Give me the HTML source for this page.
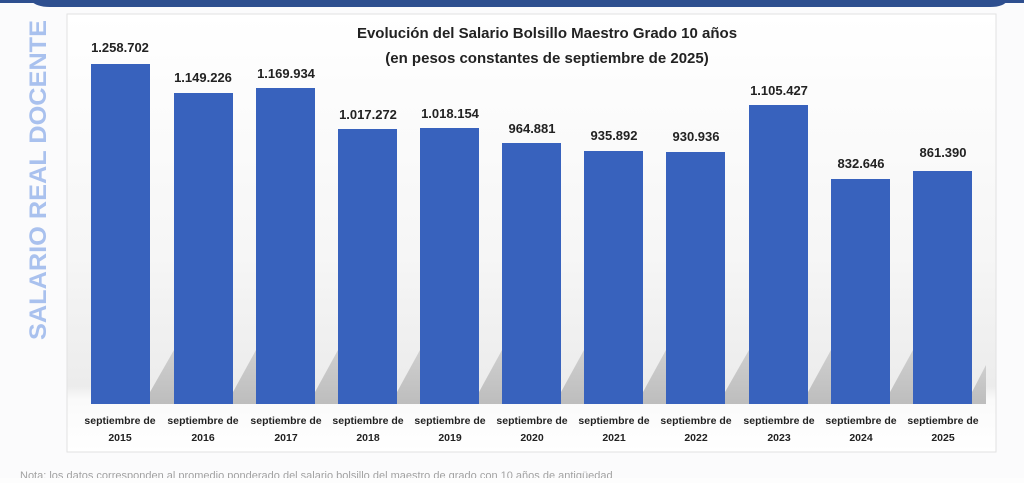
<!DOCTYPE html>
<html><head><meta charset="utf-8"><style>
body{margin:0;width:1024px;height:478px;overflow:hidden;background:#fdfdfd;font-family:"Liberation Sans",sans-serif}
</style></head><body>
<svg width="1024" height="478" viewBox="0 0 1024 478" xmlns="http://www.w3.org/2000/svg">
<defs>
<linearGradient id="bg" x1="0" y1="0" x2="0" y2="1">
<stop offset="0" stop-color="#ffffff"/><stop offset="0.55" stop-color="#f6f6f6"/><stop offset="0.85" stop-color="#ececec"/><stop offset="0.88" stop-color="#fafafa"/><stop offset="1" stop-color="#ffffff"/>
</linearGradient>
<linearGradient id="sh" x1="0" y1="0" x2="0" y2="1">
<stop offset="0" stop-color="#cfcfcf"/><stop offset="1" stop-color="#bdbdbd"/>
</linearGradient>
</defs>
<rect x="0" y="0" width="1024" height="478" fill="#fbfbfc"/>
<path d="M30 0 Q36 7 50 7 L990 7 Q1004 7 1008 0 Z" fill="#2e4f8f"/>
<rect x="0" y="0" width="1024" height="3" fill="#2e4f8f"/>
<rect x="67" y="14" width="929" height="438" fill="url(#bg)" stroke="#e2e2e2"/>
<text transform="translate(46,340) rotate(-90)" font-size="24" font-weight="bold" fill="#a9c1ee" textLength="320" lengthAdjust="spacingAndGlyphs">SALARIO REAL DOCENTE</text>
<text x="547" y="38" font-size="15" font-weight="bold" fill="#222" text-anchor="middle">Evolución del Salario Bolsillo Maestro Grado 10 años</text>
<text x="547" y="63" font-size="15" font-weight="bold" fill="#222" text-anchor="middle">(en pesos constantes de septiembre de 2025)</text>
<g fill="url(#sh)">
<polygon points="150,404 150,392 174,350 174,404"/>
<polygon points="233,404 233,392 256,350 256,404"/>
<polygon points="315,404 315,392 338,350 338,404"/>
<polygon points="397,404 397,392 420,350 420,404"/>
<polygon points="479,404 479,392 502,350 502,404"/>
<polygon points="561,404 561,392 584,350 584,404"/>
<polygon points="643,404 643,392 666,350 666,404"/>
<polygon points="725,404 725,392 749,350 749,404"/>
<polygon points="808,404 808,392 831,350 831,404"/>
<polygon points="890,404 890,392 913,350 913,404"/>
<polygon points="972,404 972,392 986,365 986,404"/>
</g>
<g fill="#3862bd">
<rect x="91" y="64" width="59" height="340"/>
<rect x="174" y="93" width="59" height="311"/>
<rect x="256" y="88" width="59" height="316"/>
<rect x="338" y="129" width="59" height="275"/>
<rect x="420" y="128" width="59" height="276"/>
<rect x="502" y="143" width="59" height="261"/>
<rect x="584" y="151" width="59" height="253"/>
<rect x="666" y="152" width="59" height="252"/>
<rect x="749" y="105" width="59" height="299"/>
<rect x="831" y="179" width="59" height="225"/>
<rect x="913" y="171" width="59" height="233"/>
</g>
<g font-size="13" font-weight="bold" fill="#222" text-anchor="middle">
<text x="120" y="52">1.258.702</text>
<text x="203" y="82">1.149.226</text>
<text x="286" y="78">1.169.934</text>
<text x="368" y="119">1.017.272</text>
<text x="450" y="118">1.018.154</text>
<text x="532" y="133">964.881</text>
<text x="614" y="140">935.892</text>
<text x="696" y="141">930.936</text>
<text x="779" y="95">1.105.427</text>
<text x="861" y="168">832.646</text>
<text x="943" y="157">861.390</text>
</g>
<g font-size="10.5" font-weight="bold" fill="#222" text-anchor="middle">
<text x="120" y="424">septiembre de</text><text x="120" y="441">2015</text>
<text x="203" y="424">septiembre de</text><text x="203" y="441">2016</text>
<text x="286" y="424">septiembre de</text><text x="286" y="441">2017</text>
<text x="368" y="424">septiembre de</text><text x="368" y="441">2018</text>
<text x="450" y="424">septiembre de</text><text x="450" y="441">2019</text>
<text x="532" y="424">septiembre de</text><text x="532" y="441">2020</text>
<text x="614" y="424">septiembre de</text><text x="614" y="441">2021</text>
<text x="696" y="424">septiembre de</text><text x="696" y="441">2022</text>
<text x="779" y="424">septiembre de</text><text x="779" y="441">2023</text>
<text x="861" y="424">septiembre de</text><text x="861" y="441">2024</text>
<text x="943" y="424">septiembre de</text><text x="943" y="441">2025</text>
</g>
<text x="20" y="479" font-size="11" fill="#666" opacity="0.6">Nota: los datos corresponden al promedio ponderado del salario bolsillo del maestro de grado con 10 años de antigüedad</text>
</svg>
</body></html>
